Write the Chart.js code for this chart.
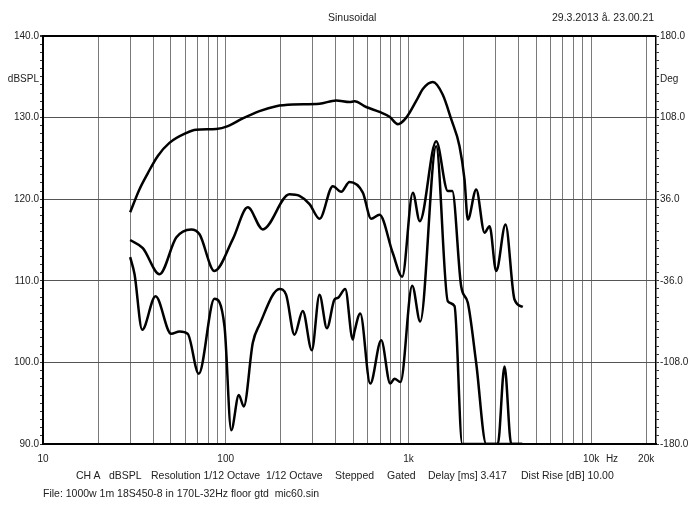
<!DOCTYPE html>
<html>
<head>
<meta charset="utf-8">
<script src="https://cdn.jsdelivr.net/npm/chart.js@4.4.1/dist/chart.umd.min.js"></script>
<style>
  body { margin: 0; background: #fff; }
  #wrap { position: relative; width: 700px; height: 525px; font-family: "Liberation Sans", Arial, sans-serif; font-size: 10.5px; color: #222; }
  #wrap canvas { position: absolute; left: 0; top: 0; }
  .t { position: absolute; white-space: pre; line-height: 12px; }
</style>
</head>
<body>
<div id="wrap">
  <canvas id="fr" width="700" height="525"></canvas>
  <div class="t" style="left:328px; top:11px;">Sinusoidal</div>
  <div class="t" style="left:552px; top:11px;">29.3.2013 å. 23.00.21</div>
  <div class="t" style="left:76px; top:469px;">CH A</div>
  <div class="t" style="left:109px; top:469px;">dBSPL</div>
  <div class="t" style="left:151px; top:469px;">Resolution 1/12 Octave</div>
  <div class="t" style="left:266px; top:469px;">1/12 Octave</div>
  <div class="t" style="left:335px; top:469px;">Stepped</div>
  <div class="t" style="left:387px; top:469px;">Gated</div>
  <div class="t" style="left:428px; top:469px;">Delay [ms] 3.417</div>
  <div class="t" style="left:521px; top:469px;">Dist Rise [dB] 10.00</div>
  <div class="t" style="left:43px; top:487px;">File: 1000w 1m 18S450-8 in 170L-32Hz floor gtd  mic60.sin</div>
</div>
<script>
// fundamental (top curve)
const freqA = [30, 33.7, 37.5, 42.5, 49.2, 60.7, 68.9, 88.7, 102.8, 124, 153, 189, 233, 326, 402, 476, 507, 587, 695, 788, 876, 973, 1125, 1199, 1361, 1542, 1715, 1904, 2028, 2114, 2350, 2610, 2780, 3024, 3401, 3808, 4227];
const splA = [118.4, 121.2, 123.2, 125.3, 126.9, 128.1, 128.5, 128.6, 128.95, 129.9, 130.8, 131.4, 131.6, 131.7, 132.1, 131.9, 132.0, 131.3, 130.7, 130.1, 129.2, 130.0, 132.4, 133.5, 134.35, 132.8, 129.8, 126.5, 122.4, 117.5, 121.2, 115.9, 116.7, 111.2, 116.9, 107.7, 106.8];

// 2nd harmonic (middle curve)
const freqB = [30, 35.2, 43.4, 53.6, 64.7, 71.9, 86.8, 109.4, 132.1, 159.6, 223.4, 253.4, 287.6, 326.3, 385.8, 428.6, 476, 563, 625, 695, 821, 925, 1057, 1154, 1419, 1643, 1737, 1945, 2114, 2350, 2666, 4200];
const splB = [115.0, 114.0, 110.8, 115.3, 116.3, 115.7, 111.2, 115.1, 119.0, 116.3, 120.6, 120.4, 119.4, 117.6, 121.6, 120.9, 122.1, 120.8, 117.6, 118.1, 113.4, 110.5, 120.8, 117.3, 127.1, 121.0, 121.0, 109.3, 107.3, 99.9, 90.0, 90.0];

// 3rd harmonic (bottom curve)
const freqC = [30, 31.7, 34.9, 41.3, 50.3, 55.9, 62.0, 71.2, 86.8, 98.5, 107.2, 118, 125.6, 140.7, 153, 197, 214, 238, 264, 296, 326, 358, 394, 411, 451, 496, 507, 545, 618, 710, 795, 839, 905, 1049, 1160, 1419, 1643, 1788, 1970, 3085, 3357, 3654, 4200];
const splC = [112.9, 110.8, 104.0, 108.1, 103.5, 103.8, 103.5, 98.6, 107.8, 104.4, 91.7, 96.0, 94.6, 102.4, 104.6, 109.0, 108.3, 103.4, 106.3, 101.5, 108.3, 104.2, 107.7, 107.9, 109.0, 102.8, 103.8, 106.0, 97.4, 102.7, 97.4, 98.0, 97.6, 109.4, 105.0, 126.5, 107.5, 106.9, 90.0, 90.0, 99.5, 90.0, 90.0];

// axis ticks
const freqGrid = [10, 20, 30, 40, 50, 60, 70, 80, 90, 100, 200, 300, 400, 500, 600, 700, 800, 900,
  1000, 2000, 3000, 4000, 5000, 6000, 7000, 8000, 9000, 10000, 20000];
const freqLabels = { 10: "10", 100: "100", 1000: "1k", 10000: "10k", 20000: "20k" };
const xMax = 22650;
const splTicks = [];
for (let v = 90; v <= 140; v++) splTicks.push(v);
const degTicks = [];
for (let i = 0; i <= 50; i++) degTicks.push(Math.round((-180 + 7.2 * i) * 10) / 10);

const FONT = { family: '"Liberation Sans", Arial, sans-serif', size: 10 };

function pts(xs, ys) {
  return xs.map((x, i) => ({ x: x, y: ys[i] }));
}

const extraText = {
  id: "extraText",
  afterDraw(chart) {
    const c = chart.ctx;
    c.save();
    c.font = '10px "Liberation Sans", Arial, sans-serif';
    c.fillStyle = "#222";
    c.textBaseline = "middle";
    c.textAlign = "right";
    c.fillText("dBSPL", 39, 79);
    c.textAlign = "left";
    c.fillText("Deg", 660, 79);
    c.textAlign = "center";
    c.fillText("Hz", 612, 459);
    c.restore();
  },
};

const lineStyle = {
  borderColor: "#000",
  borderWidth: 2.5,
  pointRadius: 0,
  fill: false,
  cubicInterpolationMode: "monotone",
};

const ctx = document.getElementById("fr").getContext("2d");

const frChart = new Chart(ctx, {
  type: "line",
  data: {
    datasets: [
      Object.assign({ label: "Fundamental", data: pts(freqA, splA) }, lineStyle),
      Object.assign({ label: "2nd", data: pts(freqB, splB) }, lineStyle),
      Object.assign({ label: "3rd", data: pts(freqC, splC) }, lineStyle),
    ],
  },
  options: {
    responsive: false,
    animation: false,
    layout: { padding: { top: 36, left: 0, right: 0, bottom: 0 } },
    plugins: {
      legend: { display: false },
      tooltip: { enabled: false },
    },
    scales: {
      x: {
        type: "logarithmic",
        min: 10,
        max: xMax,
        afterBuildTicks: (scale) => {
          scale.ticks = freqGrid.concat([xMax]).map((v) => ({ value: v }));
        },
        afterFit: (scale) => {
          scale.height = 81;
        },
        ticks: {
          autoSkip: false,
          maxRotation: 0,
          minRotation: 0,
          padding: 9,
          color: "#222",
          font: FONT,
          callback: function (value) {
            return freqLabels[value] || "";
          },
        },
        grid: {
          drawTicks: false,
          color: function (c) {
            const v = c.tick && c.tick.value;
            if (v === 10 || v >= xMax) return "rgba(0,0,0,0)";
            return "#7a7a7a";
          },
          lineWidth: 1,
        },
        border: { color: "#000", width: 2 },
      },
      y: {
        type: "linear",
        position: "left",
        min: 90,
        max: 140,
        afterBuildTicks: (scale) => {
          scale.ticks = splTicks.map((v) => ({ value: v }));
        },
        afterFit: (scale) => {
          scale.width = 43;
        },
        ticks: {
          autoSkip: false,
          padding: 1,
          color: "#222",
          font: FONT,
          callback: function (value) {
            return value % 10 === 0 ? value.toFixed(1) : "";
          },
        },
        grid: {
          tickLength: 3,
          tickColor: "#333",
          color: function (c) {
            const v = c.tick && c.tick.value;
            if (v === 140) return "#000";
            if (v % 10 === 0 && v !== 90) return "#555";
            return "rgba(0,0,0,0)";
          },
          lineWidth: function (c) {
            return c.tick && c.tick.value === 140 ? 2 : 1;
          },
        },
        border: { color: "#000", width: 2 },
      },
      y2: {
        type: "linear",
        position: "right",
        min: -180,
        max: 180,
        afterBuildTicks: (scale) => {
          scale.ticks = degTicks.map((v) => ({ value: v }));
        },
        afterFit: (scale) => {
          scale.width = 44;
        },
        ticks: {
          autoSkip: false,
          padding: 1,
          color: "#222",
          font: FONT,
          callback: function (value, index) {
            return index % 10 === 0 ? value.toFixed(1) : "";
          },
        },
        grid: {
          drawOnChartArea: false,
          tickLength: 3,
          tickColor: "#333",
        },
        border: { color: "#000", width: 1.5 },
      },
    },
  },
  plugins: [extraText],
});
</script>
</body>
</html>
